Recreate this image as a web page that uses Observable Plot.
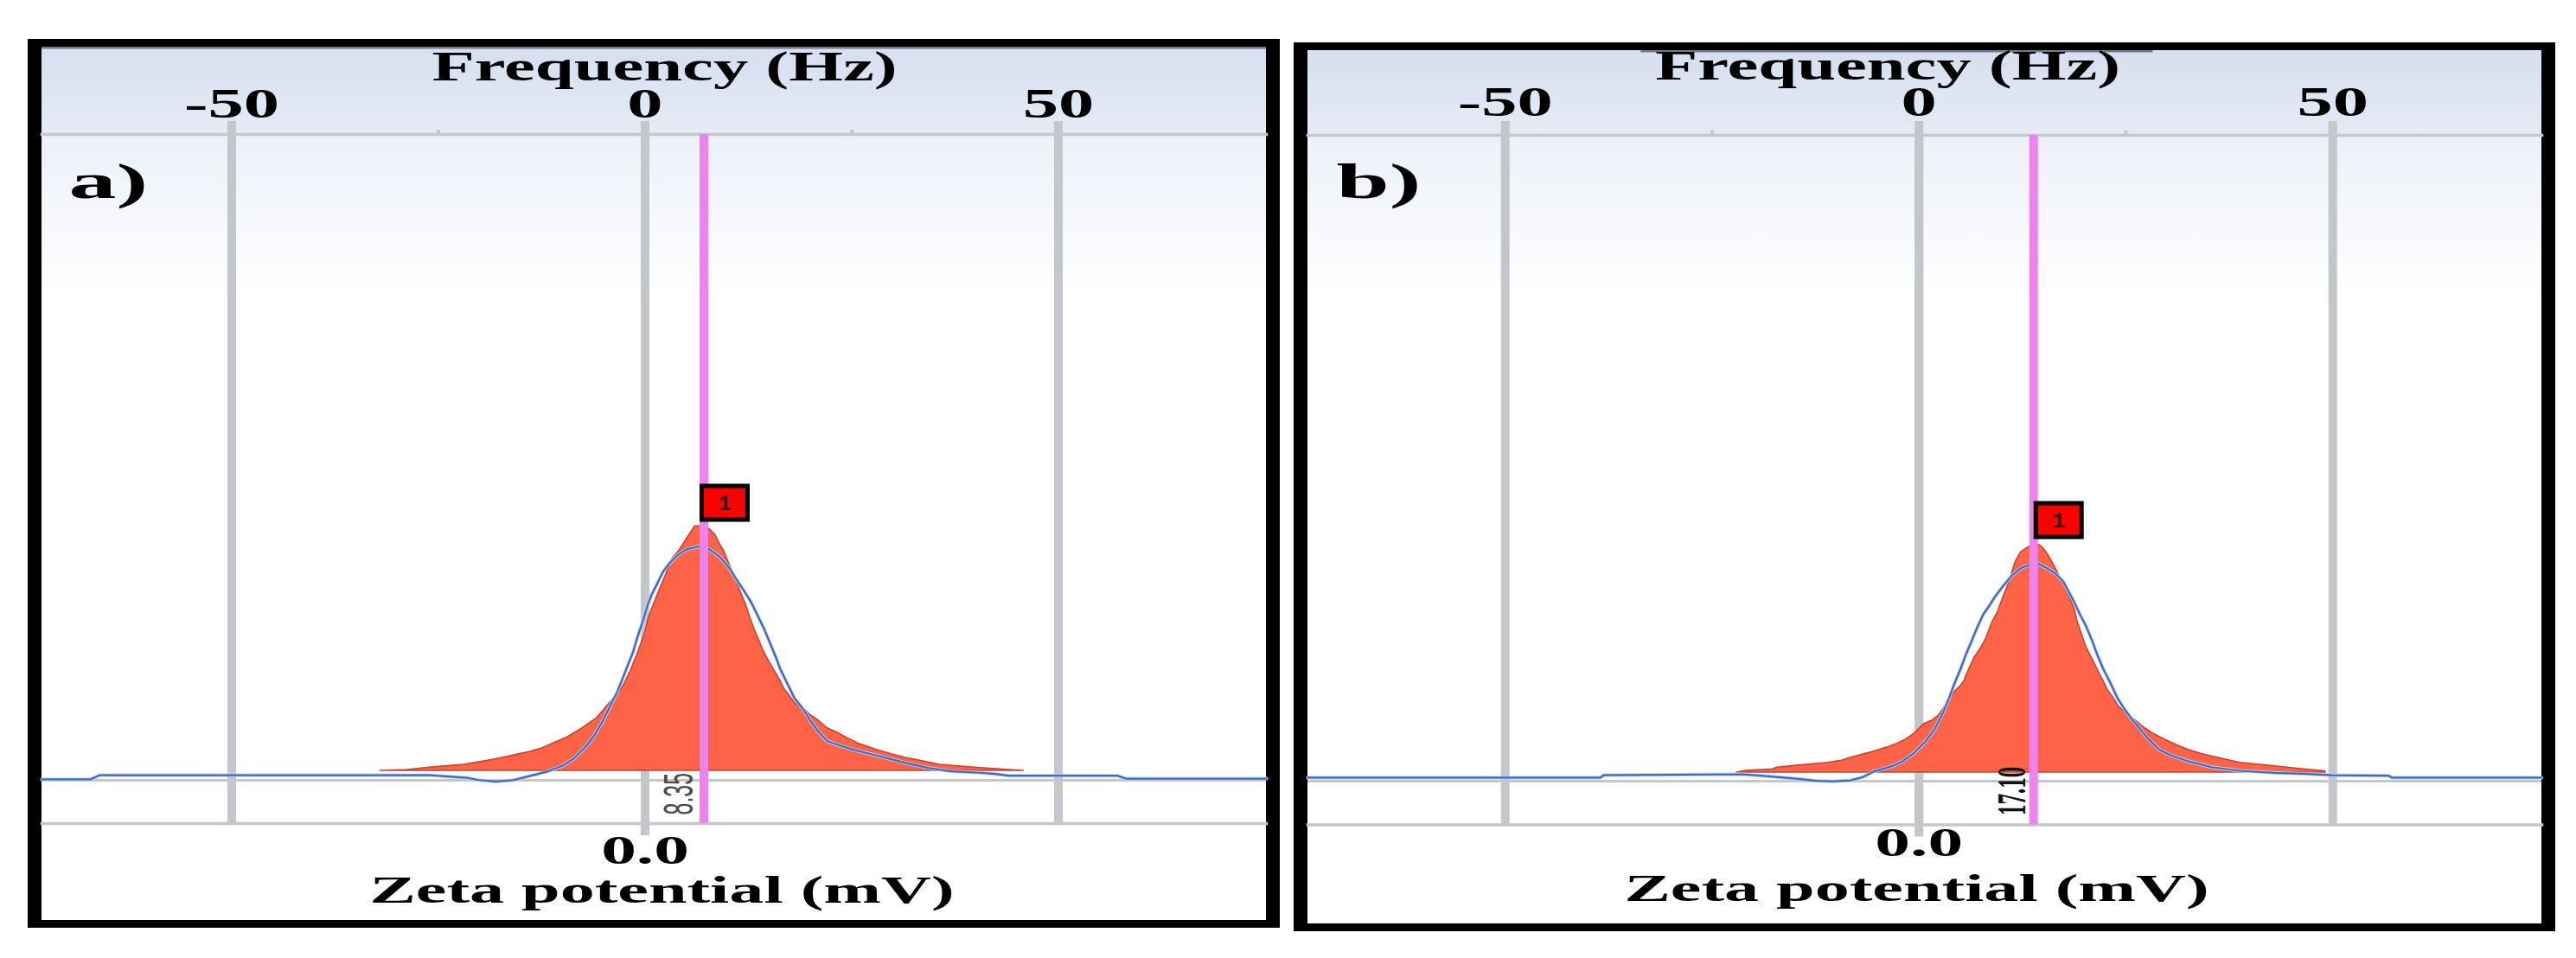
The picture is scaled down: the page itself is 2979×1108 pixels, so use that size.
<!DOCTYPE html>
<html><head><meta charset="utf-8">
<script src="https://cdn.jsdelivr.net/npm/d3@7"></script>
<script src="https://cdn.jsdelivr.net/npm/@observablehq/plot@0.6"></script>
<style>
html,body{margin:0;padding:0;background:#fff;width:2979px;height:1108px;overflow:hidden;}
.panel{position:absolute;box-sizing:content-box;border-style:solid;border-color:#000;border-width:9px 16px;background:#fff;}
.panel svg{display:block;max-width:none !important;}
</style></head><body>
<div id="pa" class="panel"></div>
<div id="pb" class="panel"></div>
<script>
// ---------------- data ----------------
const panelLabels = ["a)", "b)"];
const peakZeta = [8.35, 17.10];
const peakLabels = ["8.35", "17.10"];
const boxLabels = ["1", "1"];
const freqTicks = [-50, 0, 50];
const freqMinorTicks = [-25, 25];
const zetaTicks = [0];
const zetaTickLabels = ["0.0"];
const freqTitle = "Frequency (Hz)";
const zetaTitle = "Zeta potential (mV)";
const zeroLevel = [-3.9, -3.5];

// panel a: zeta distribution (mV, intensity)
const redA_mv = [-37.6,-33.8,-30.6,-25.7,-23.6,-21.6,-19.7,-18.3,-16.4,-14.6,-12.8,-11.3,-9.7,-8.3,-6.8,-5.6,-4.4,-3.1,-2.1,-1.1,-0.06,0.55,1.17,2.0,3.0,3.8,4.85,5.9,7.1,8.3,9.15,9.97,10.6,11.2,11.8,12.4,13.0,13.7,14.3,14.9,15.5,16.1,16.7,17.3,18.0,18.6,19.2,19.8,20.6,21.4,22.7,23.5,24.7,25.9,27.2,28.8,30.4,32.9,35.0,37.0,39.5,41.9,46.0,49.9,53.8];
const redA_v  = [0,0.35,1.3,2.5,3.5,4.5,5.65,6.5,7.7,9.2,11.5,13.3,15.9,18.6,21.6,25.7,29.8,34.5,40.4,47.5,55.7,62.8,67.5,73.4,80.4,86.3,89.9,94.6,99.9,100,98.7,96.4,92.8,89.9,85.7,81.6,77.5,72.2,68.1,62.8,58.1,54,49.8,46.3,42.8,39.8,36.9,33.3,30.4,27.4,25.1,22.7,20.4,17.4,15.7,13.3,11,8.6,6.8,5.3,3.9,2.5,1.5,0.7,0];
// panel a: fitted / phase curve (blue)
const blueA_mv = [-85.7,-78.8,-77.5,-40,-30.6,-25.2,-23.6,-21.2,-18.7,-16.2,-13.8,-11.7,-10.1,-8.45,-7.2,-6.0,-5.0,-3.96,-3.3,-2.5,-1.7,-1.1,-0.27,0.34,0.96,1.8,2.6,3.4,4.6,5.9,7.5,9.15,10.6,12.0,13.0,14.1,15.1,16.1,16.9,17.75,18.6,19.2,20.2,21.2,22.5,23.5,24.7,25.9,27.6,29.6,32.1,34.5,37.8,40.7,43.6,47.6,50.1,51.7,67.1,68.3,88.3];
const blueA_v  = [-3.5,-3.5,-1.8,-1.8,-1.8,-2.9,-3.8,-4.4,-3.8,-2.0,-0.2,2.1,5.1,9.8,14.5,20.4,26.3,32.2,36.9,42.8,48.6,54.5,61.6,67.5,72.2,76.9,81.6,84.6,88.1,90.5,91.6,90.5,87.5,82.8,78.1,73.4,68.7,62.8,58.1,52.2,46.3,41.6,35.7,29.8,25.1,20.4,15.7,12.1,10.4,8.6,6.8,5.1,2.7,0.94,-0.24,-0.8,-1.4,-2,-2,-3.2,-3.2];

// panel b
const redB_mv = [-27.2,-25.9,-21.8,-21.1,-18.3,-13.6,-11.4,-10.2,-8.9,-7.6,-6.1,-4.8,-3.3,-2.0,-0.7,0.8,1.9,3.0,3.6,4.5,5.3,6.2,6.8,7.5,8.3,9.2,10.1,10.9,11.8,12.6,13.5,14.4,15.2,16.3,17.1,18.0,18.7,19.3,19.9,20.6,21.2,21.9,22.5,23.2,23.6,24.3,24.9,25.5,26.2,26.8,27.5,28.1,29.0,29.8,31.1,32.4,33.7,35.0,36.7,38.5,40.2,42.3,44.9,47.9,52.2,56.1,60.6,60.7];
const redB_v  = [0,0.7,1.3,2.0,2.8,4.0,4.9,6.0,7.0,7.9,9.1,10.2,11.7,13.4,15.8,19.9,21.1,23.4,25.8,29.3,32.9,35.2,37.6,42.3,47.0,50.5,55.2,61.1,65.8,71.7,78,86,90,92,92.9,92.9,91.2,88.8,85.9,82.3,78.8,75.3,71.7,67.0,62.3,56.4,51.7,48.2,44.6,41.1,37.6,34.0,30.5,27.0,24.0,21.1,18.1,15.8,13.4,11.1,9.3,7.5,5.8,4.0,2.8,1.7,0.5,0];
const blueB_mv = [-91.2,-47.5,-47.1,-26.5,-23.5,-18.3,-15.3,-12.7,-10.2,-8.4,-6.7,-4.1,-2.4,-0.7,1.0,2.3,3.6,4.5,5.3,6.2,7.0,7.9,8.8,9.6,10.5,11.3,12.6,13.9,15.2,16.1,17.8,19.1,20.4,21.5,22.3,23.2,24.0,24.9,25.8,26.6,27.5,28.6,29.6,30.7,31.8,32.9,34.1,35.9,37.6,40.2,43.6,47.9,53.1,57.4,61.7,70.1,70.6,92.9];
const blueB_v  = [-2.1,-2.1,-1.1,-0.7,-1.3,-2.5,-3.4,-3.6,-3.2,-1.9,0.5,2.5,4.6,8.1,12.8,17.6,24.6,30.5,36.4,42.3,48.2,54.1,60.0,64.7,68.2,71.7,76.4,80.6,83.5,84.5,85.3,83.5,81.2,78.2,74.1,69.4,64.7,60.0,54.1,48.2,42.3,36.4,30.5,25.8,21.7,18.1,14.0,9.3,7.0,4.6,2.2,0.7,-0.1,-0.5,-1.1,-1.3,-2.1,-2.1];

const zip = (xs, ys) => xs.map((x, i) => ({mv: x, v: ys[i]}));
const redSeries = [zip(redA_mv, redA_v), zip(redB_mv, redB_v)];
const blueSeries = [zip(blueA_mv, blueA_v), zip(blueB_mv, blueB_v)];

// ---------------- layout / style ----------------
const panels = [
  {id: "pa", left: 32, top: 45, width: 1416, height: 1010, marginTop: 101, marginBottom: 112,
   zeroPx: 697.5, pxPerMv: 8.14, pxPerHz: 9.56, basePx: 837,
   gridTopExt: 15, tickLabelDy: -20, titleDx: 12, titleDy: -63,
   tagDx: 31, tagDy: 73, zeroLabDy: 46, zetaDx: 9, zetaDy: 91,
   peakLabDx: -28, peakLabDy: -10, peakLabFont: "Liberation Sans", peakLabWeight: "normal", peakLabFill: "#4a4a4a",
   boxDx: 24, boxDy: -27, topLine: [0, 1]},
  {id: "pb", left: 1496, top: 49, width: 1427, height: 1010, marginTop: 98, marginBottom: 114.5,
   zeroPx: 706.7, pxPerMv: 7.75, pxPerHz: 9.57, basePx: 835,
   gridTopExt: 16, tickLabelDy: -23, titleDx: -43, titleDy: -65,
   tagDx: 33, tagDy: 72, zeroLabDy: 36, zetaDx: -9.5, zetaDy: 88,
   peakLabDx: -25, peakLabDy: -11, peakLabFont: "Liberation Serif", peakLabWeight: "bold", peakLabFill: "#111",
   boxDx: 29, boxDy: -29, topLine: [0.27, 0.685]}
];
const pxPerUnit = 2.83;
const serif = "Liberation Serif, Times New Roman, serif";
const gridColor = "#c3c7cb";

const boxSymbol = {draw(ctx) { const w = 53, h = 39; ctx.rect(-w / 2, -h / 2, w, h); }};

function headerBg(cfg) {
  return function (index, scales, values, dims) {
    const W = dims ? dims.width : cfg.width, MT = dims ? dims.marginTop : cfg.marginTop;
    const g = d3.create("svg:g");
    const defs = g.append("defs");
    const g1 = defs.append("linearGradient").attr("id", "hdr1-" + cfg.id).attr("x1", 0).attr("y1", 0).attr("x2", 0).attr("y2", 1);
    g1.append("stop").attr("offset", 0).attr("stop-color", "#d6dff0");
    g1.append("stop").attr("offset", 1).attr("stop-color", "#e6ebf5");
    const g2 = defs.append("linearGradient").attr("id", "hdr2-" + cfg.id).attr("x1", 0).attr("y1", 0).attr("x2", 0).attr("y2", 1);
    g2.append("stop").attr("offset", 0).attr("stop-color", "#ecf0f8");
    g2.append("stop").attr("offset", 0.6).attr("stop-color", "#f7f9fc");
    g2.append("stop").attr("offset", 1).attr("stop-color", "#ffffff");
    g.append("rect").attr("x", 0).attr("y", 0).attr("width", W).attr("height", MT).attr("fill", `url(#hdr1-${cfg.id})`);
    g.append("rect").attr("x", 0).attr("y", MT).attr("width", W).attr("height", 190).attr("fill", `url(#hdr2-${cfg.id})`);
    g.append("rect").attr("x", W * cfg.topLine[0]).attr("y", 0).attr("width", W * (cfg.topLine[1] - cfg.topLine[0])).attr("height", 2.5).attr("fill", "#707c8a");
    return g.node();
  };
}

// horizontal (sx) or perpendicular (sy) glyph stretch, matching the widened original
function stretchTexts(svg) {
  svg.querySelectorAll("text[aria-label]").forEach(t => {
    const m = /^(sx|sy):([\d.]+)/.exec(t.getAttribute("aria-label"));
    if (!m) return;
    const f = +m[2];
    const tr = t.getAttribute("transform") || "";
    t.setAttribute("transform", tr + (m[1] === "sx" ? ` scale(${f},1)` : ` scale(1,${f})`));
    t.removeAttribute("aria-label");
  });
}

panels.forEach((cfg, i) => {
  const mvPerHz = cfg.pxPerHz / cfg.pxPerMv;
  const red = redSeries[i], blue = blueSeries[i];
  const peakV = d3.max(red, d => d.v);
  const plot = Plot.plot({
    width: cfg.width, height: cfg.height,
    marginLeft: 0, marginRight: 0, marginTop: cfg.marginTop, marginBottom: cfg.marginBottom,
    style: {background: "white", overflow: "visible"},
    x: {domain: [-cfg.zeroPx / cfg.pxPerMv, (cfg.width - cfg.zeroPx) / cfg.pxPerMv], axis: null},
    y: {domain: [0, 100], range: [cfg.basePx, cfg.basePx - 100 * pxPerUnit], axis: null},
    marks: [
      headerBg(cfg),
      Plot.ruleX(freqTicks, {x: d => d * mvPerHz, stroke: gridColor, strokeWidth: 10, insetTop: -cfg.gridTopExt}),
      Plot.ruleX(zetaTicks, {x: d => d, stroke: gridColor, strokeWidth: 10, insetBottom: -14}),
      Plot.axisX(freqMinorTicks.map(d => d * mvPerHz), {anchor: "top", tickSize: 6, tickFormat: () => "", stroke: gridColor, strokeWidth: 4, label: null}),
      Plot.frame({anchor: "top", stroke: "#c4c8cc", strokeWidth: 3.5}),
      Plot.frame({anchor: "bottom", stroke: "#c4c8cc", strokeWidth: 3.5}),
      Plot.ruleY([zeroLevel[i]], {stroke: "#c4c8cc", strokeWidth: 3}),
      Plot.areaY(red, {x: "mv", y: "v", fill: "#ff6347", stroke: "#c8442c", strokeWidth: 1.6}),
      Plot.lineY(blue, {x: "mv", y: "v", stroke: "#c3d0ef", strokeWidth: 4}),
      Plot.lineY(blue, {x: "mv", y: "v", stroke: "#3b69c9", strokeWidth: 2.2}),
      Plot.ruleX([peakZeta[i]], {stroke: "#ee82ee", strokeWidth: 10}),
      Plot.dot([peakZeta[i]], {x: d => d, y: () => peakV, symbol: boxSymbol, fill: "#ff0000", stroke: "#000", strokeWidth: 5, dx: cfg.boxDx, dy: cfg.boxDy}),
      Plot.text([boxLabels[i]], {x: () => peakZeta[i], y: () => peakV, text: d => d, dx: cfg.boxDx, dy: cfg.boxDy, fontSize: 26, fontWeight: "bold", fontFamily: "Liberation Mono, monospace", fill: "#2a0000", lineAnchor: "middle"}),
      Plot.text([peakLabels[i]], {x: () => peakZeta[i], text: d => d, frameAnchor: "bottom", rotate: -90, textAnchor: "start", lineAnchor: "middle", dx: cfg.peakLabDx, dy: cfg.peakLabDy, fontSize: 25, fontFamily: cfg.peakLabFont, fontWeight: cfg.peakLabWeight, fill: cfg.peakLabFill, ariaLabel: () => "sy:1.9"}),
      Plot.text(freqTicks, {x: d => d * mvPerHz, text: d => String(d), frameAnchor: "top", dy: cfg.tickLabelDy, lineAnchor: "bottom", fontSize: 48, fontWeight: "bold", fontFamily: serif, fill: "#000", ariaLabel: () => "sx:1.72"}),
      Plot.text([freqTitle], {text: d => d, frameAnchor: "top", dx: cfg.titleDx, dy: cfg.titleDy, lineAnchor: "bottom", fontSize: 48, fontWeight: "bold", fontFamily: serif, fill: "#000", ariaLabel: () => "sx:1.68"}),
      Plot.text([panelLabels[i]], {text: d => d, frameAnchor: "top-left", textAnchor: "start", dx: cfg.tagDx, dy: cfg.tagDy, lineAnchor: "bottom", fontSize: 58, fontWeight: "bold", fontFamily: serif, fill: "#000", ariaLabel: () => "sx:1.9"}),
      Plot.text(zetaTicks, {x: d => d, text: (d, j) => zetaTickLabels[j], frameAnchor: "bottom", dy: cfg.zeroLabDy, lineAnchor: "bottom", fontSize: 46, fontWeight: "bold", fontFamily: serif, fill: "#000", ariaLabel: () => "sx:1.77"}),
      Plot.text([zetaTitle], {text: d => d, frameAnchor: "bottom", dx: cfg.zetaDx, dy: cfg.zetaDy, lineAnchor: "bottom", fontSize: 45, fontWeight: "bold", fontFamily: serif, fill: "#000", ariaLabel: () => "sx:1.78"})
    ]
  });
  const host = document.getElementById(cfg.id);
  host.style.left = cfg.left + "px";
  host.style.top = cfg.top + "px";
  host.style.width = cfg.width + "px";
  host.style.height = cfg.height + "px";
  host.appendChild(plot);
  stretchTexts(plot);
});
</script>
</body></html>
